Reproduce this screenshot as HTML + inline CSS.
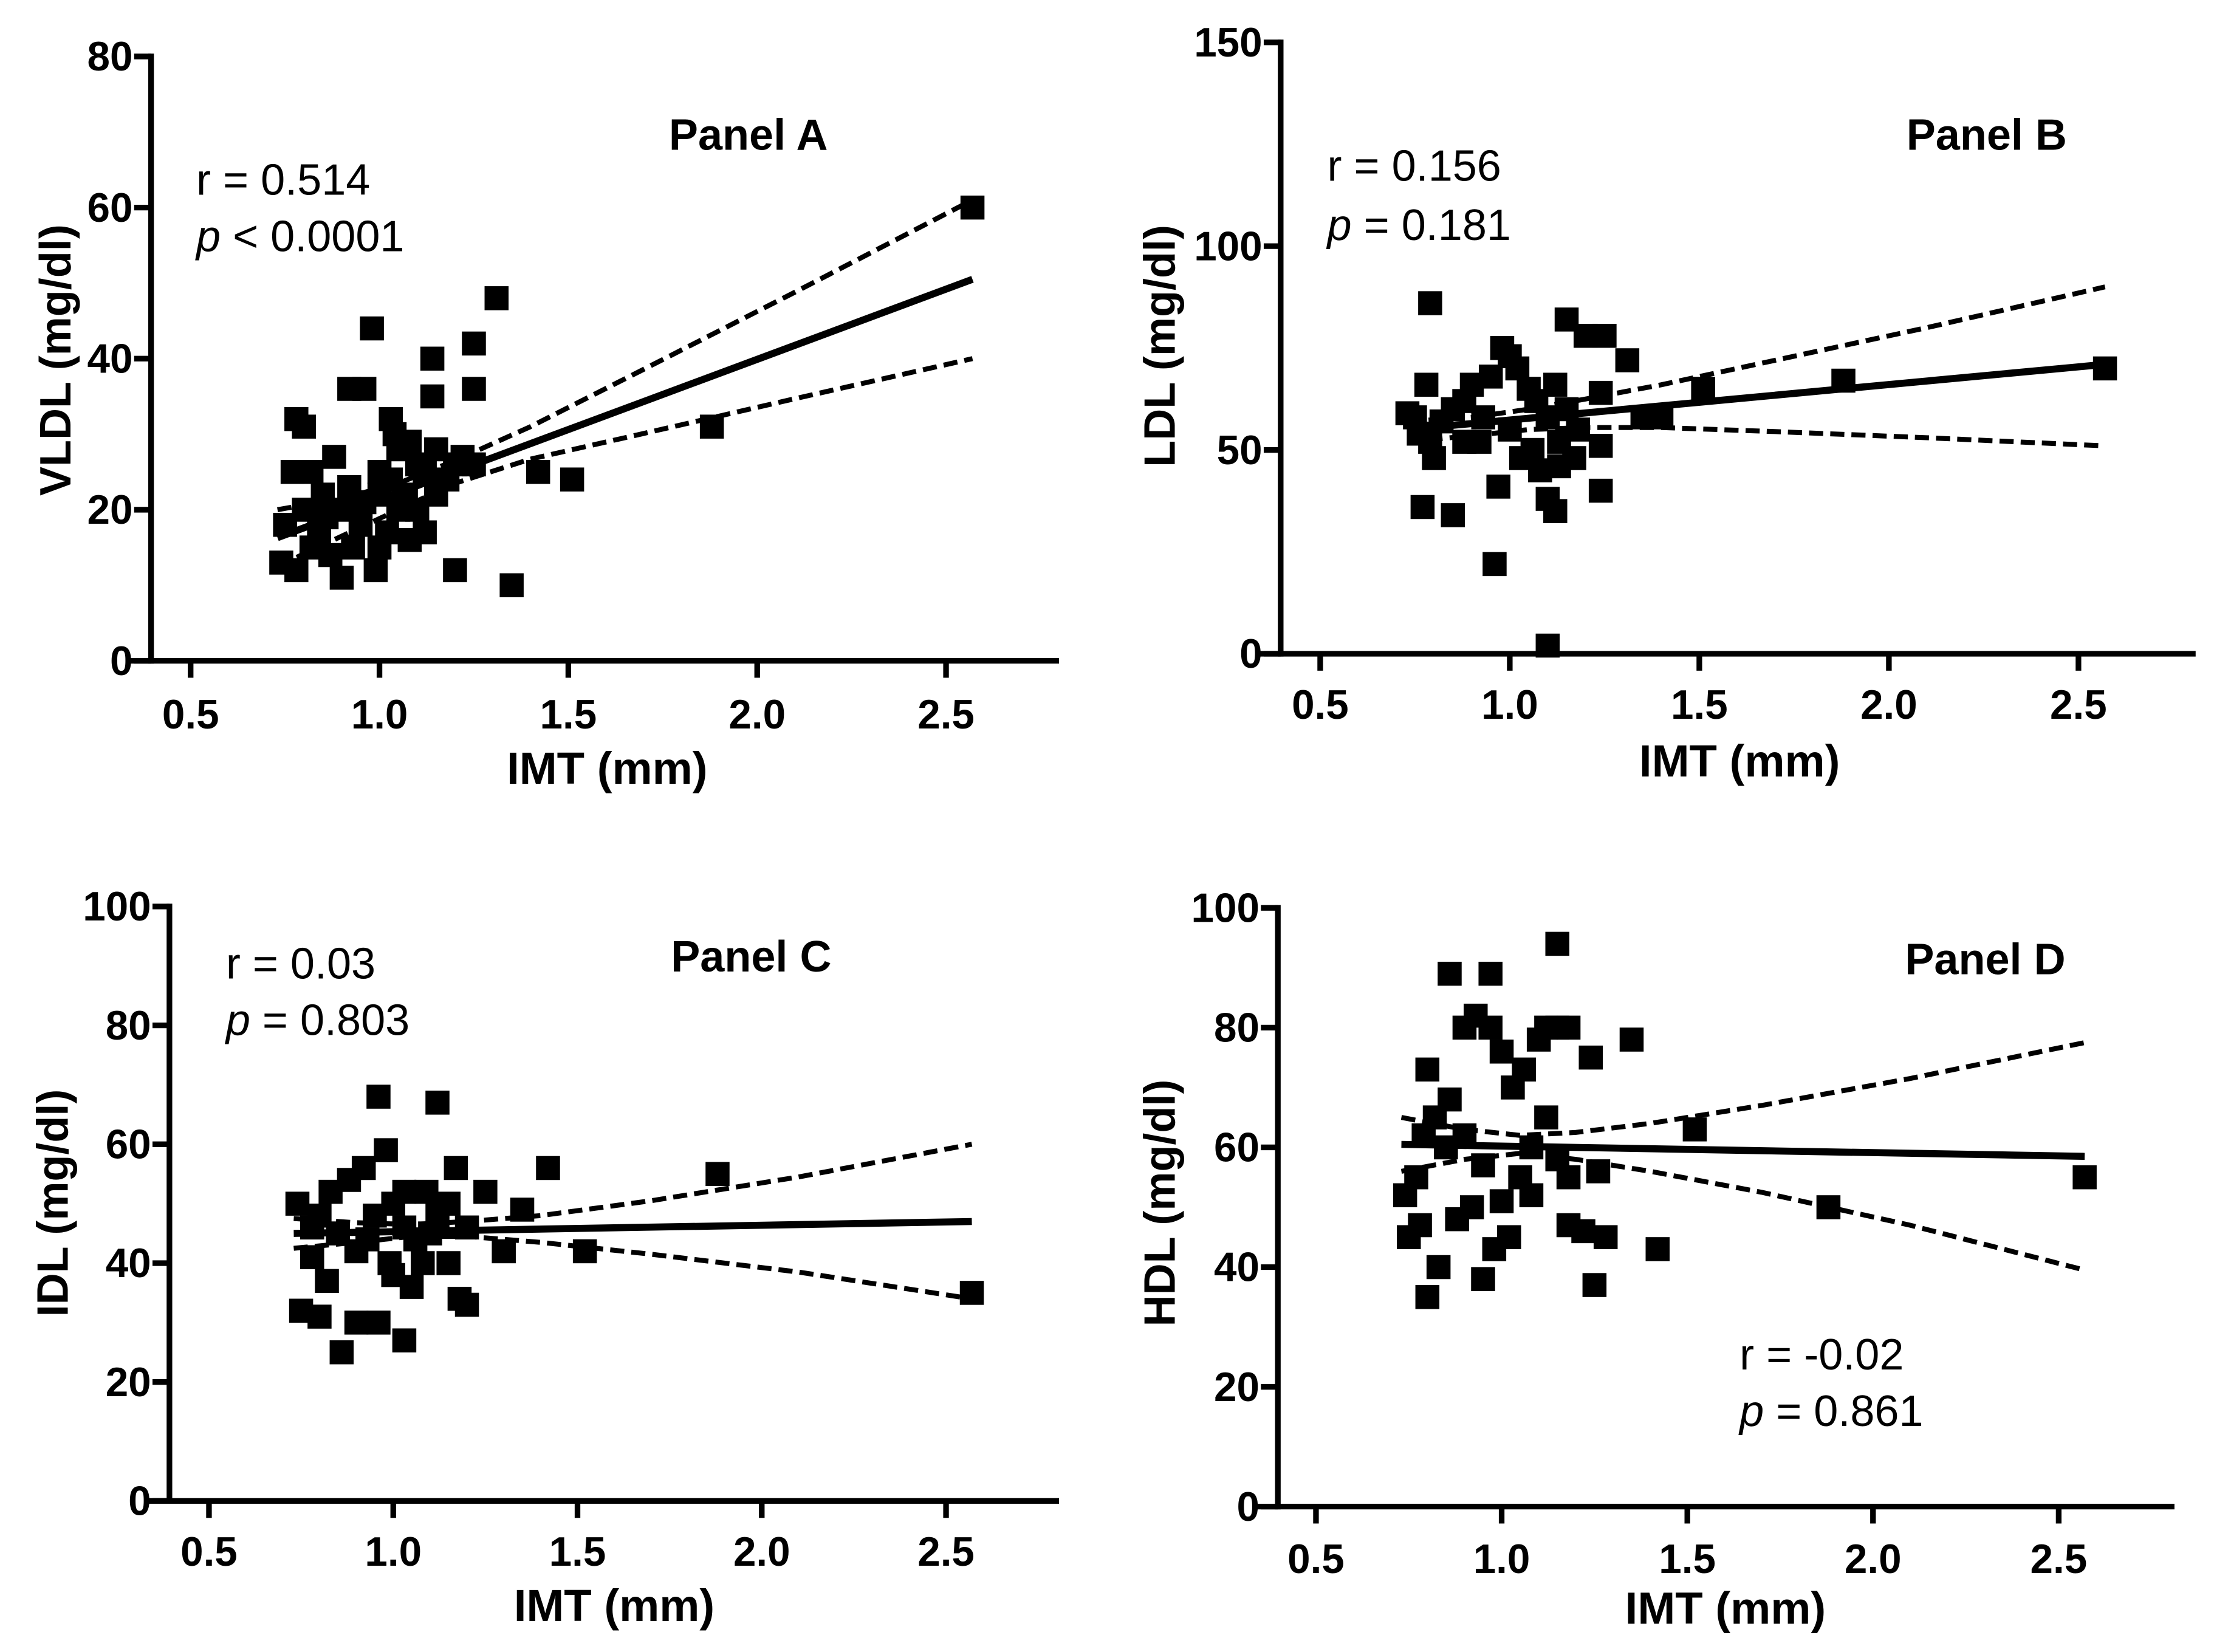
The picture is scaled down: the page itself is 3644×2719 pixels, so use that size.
<!DOCTYPE html>
<html><head><meta charset="utf-8"><style>
html,body{margin:0;padding:0;background:#fff}
svg{display:block}
text{font-family:"Liberation Sans",sans-serif;fill:#000}
</style></head><body>
<svg id="fig" width="3644" height="2719" viewBox="0 0 1568 1170" preserveAspectRatio="none"></svg>
<script>
// Panel A data (VLDL)
const aX=[2.57,1.88,1.51,1.42,1.35,1.31,1.25,1.25,1.14,1.14,1.20,0.98,0.92,0.96,0.78,0.80,0.75,0.74,0.78,0.90,0.99,1.03,1.05,1.10,1.15,1.20,1.25,0.82,0.85,0.88,0.90,0.95,1.00,1.05,1.08,1.12,1.15,0.80,0.84,0.87,0.93,1.00,1.03,1.07,0.77,0.82,0.92,1.12,1.18,1.22,1.00,0.86,1.10,1.02,0.96,1.08,1.04];
const aY=[60,31,24,25,10,48,42,36,40,35,12,44,36,36,32,31,18,13,12,11,12,32,28,26,28,26,26,25,22,27,20,18,22,20,16,17,22,20,17,14,15,15,24,22,25,15,23,25,24,27,25,19,20,17,21,29,30];
const aFitX=[0.73,2.57];
const aFitY=[16.3,50.5];
const aBandX=[0.73,0.9,1.05,1.2,1.4,1.7,2.1,2.57];
const aUpper=[20,21.5,23.5,26.5,31,38.6,48.8,61];
const aLower=[12.5,16.5,20,23.5,26.7,30.1,34.7,40];
// Panel B data (LDL)
const bX=[0.79,2.57,1.88,1.51,1.40,1.35,1.31,1.25,1.20,1.15,1.24,1.24,1.24,1.13,1.10,1.12,0.96,1.10,0.85,0.77,0.80,0.78,0.75,0.76,0.82,0.85,0.88,0.90,0.92,0.95,0.98,1.00,1.02,1.05,1.07,1.10,1.12,1.15,1.18,0.97,1.03,0.93,0.88,1.00,1.06,1.08,1.13,0.79,0.73,1.17];
const bY=[86,70,67,65,58,58,72,78,78,82,64,51,40,46,38,35,22,2,34,36,48,66,58,54,57,60,62,66,52,68,75,73,70,65,62,58,66,60,55,41,48,58,52,55,50,45,52,52,59,48];
const bFitX=[0.73,2.57];
const bFitY=[55,71];
const bBandX=[0.73,0.9,1.05,1.2,1.4,1.7,2.1,2.57];
const bUpper=[57,58,60,62.5,66,72,80,90];
const bLower=[52,53.5,55,55.5,55.5,54.5,53,51];
// Panel C data (IDL)
const cX=[2.57,1.88,1.52,1.42,1.35,1.30,1.25,1.20,1.17,1.12,0.96,1.03,0.96,0.90,0.86,0.75,0.80,0.82,0.78,0.74,0.80,0.83,0.88,0.92,0.98,0.85,0.90,0.95,1.00,1.03,1.06,1.09,1.12,1.15,1.18,1.00,1.05,1.08,0.93,0.78,1.10,1.20,1.15,0.99,1.03];
const cY=[35,55,42,56,49,42,52,33,56,67,68,27,30,30,25,32,31,37,41,50,48,52,54,56,59,45,42,48,50,46,44,52,48,40,34,38,36,40,44,46,45,46,50,40,52];
const cFitX=[0.73,2.57];
const cFitY=[45,47];
const cBandX=[0.73,0.9,1.05,1.2,1.4,1.7,2.1,2.57];
const cUpper=[47.5,46.8,46.5,47,48,50.5,54.5,60];
const cLower=[42.5,43.5,44.5,44.5,43.5,41.5,38.5,34];
// Panel D data (HDL)
const dX=[2.57,1.88,1.52,1.42,1.35,1.28,1.25,1.26,1.24,1.15,0.86,0.97,0.80,0.83,0.95,0.98,0.75,0.78,0.80,0.74,0.77,0.79,0.82,0.86,0.90,0.93,0.97,1.00,1.03,1.06,1.10,1.12,1.15,1.18,0.88,0.92,1.00,1.05,1.08,1.12,1.15,1.18,1.22,1.02,0.95,0.85,1.08,0.90,1.18];
const dY=[55,50,63,43,78,45,37,56,75,94,89,89,35,40,38,43,45,47,73,52,55,62,65,68,80,82,80,76,70,73,78,80,80,80,48,50,51,55,60,65,58,47,46,45,57,60,52,62,55];
const dFitX=[0.73,2.57];
const dFitY=[60.5,58.5];
const dBandX=[0.73,0.9,1.05,1.2,1.4,1.7,2.1,2.57];
const dUpper=[65,63,62,62.5,64,67,71.5,77.5];
const dLower=[56,58,59,58,56,52.5,47,39.5];

const xTicks=[0.5,1.0,1.5,2.0,2.5];
const xTickLabels=["0.5","1.0","1.5","2.0","2.5"];
const aYTicks=[0,20,40,60,80];
const bYTicks=[0,50,100,150];
const cYTicks=[0,20,40,60,80,100];
const dYTicks=[0,20,40,60,80,100];

const NS="http://www.w3.org/2000/svg";
const svg=document.getElementById('fig');
function mk(tag,attrs,parent){const e=document.createElementNS(NS,tag);for(const k in attrs)e.setAttribute(k,attrs[k]);(parent||svg).appendChild(e);return e;}

const panels=[
 {id:'a',X:aX,Y:aY,fx:aFitX,fy:aFitY,bx:aBandX,bu:aUpper,bl:aLower,yt:aYTicks,ymax:80,
  ax:107,y0:468,y1:40,xp0:135,xp1:670,xEnd:750,xStart:90,title:'Panel A',tx:530,ty:106,
  rx:139,ry:138,py:178,r:'r = 0.514',p:' < 0.0001',ylab:'VLDL (mg/dl)',ylx:40,yly:255,xlx:430,xly:555,tkY:515},
 {id:'b',X:bX,Y:bY,fx:bFitX,fy:bFitY,bx:bBandX,bu:bUpper,bl:bLower,yt:bYTicks,ymax:150,
  ax:907,y0:463,y1:30,xp0:935,xp1:1472,xEnd:1555,xStart:890,title:'Panel B',tx:1407,ty:106,
  rx:940,ry:128,py:170,r:'r = 0.156',p:' = 0.181',ylab:'LDL (mg/dl)',ylx:822,yly:245,xlx:1232,xly:550,tkY:508},
 {id:'c',X:cX,Y:cY,fx:cFitX,fy:cFitY,bx:cBandX,bu:cUpper,bl:cLower,yt:cYTicks,ymax:100,
  ax:120,y0:1063,y1:642,xp0:148,xp1:670,xEnd:750,xStart:103,title:'Panel C',tx:532,ty:688,
  rx:160,ry:693,py:733,r:'r = 0.03',p:' = 0.803',ylab:'IDL (mg/dl)',ylx:38,yly:852,xlx:435,xly:1148,tkY:1108},
 {id:'d',X:dX,Y:dY,fx:dFitX,fy:dFitY,bx:dBandX,bu:dUpper,bl:dLower,yt:dYTicks,ymax:100,
  ax:905,y0:1067,y1:643,xp0:932,xp1:1458,xEnd:1540,xStart:888,title:'Panel D',tx:1406,ty:690,
  rx:1232,ry:970,py:1010,r:'r = -0.02',p:' = 0.861',ylab:'HDL (mg/dl)',ylx:822,yly:852,xlx:1222,xly:1150,tkY:1113}
];

panels.forEach(P=>{
 const g=mk('g',{});
 
 
 const sx=v=>P.xp0+(v-0.5)*(P.xp1-P.xp0)/2;
 const sy=v=>P.y0-v*(P.y0-P.y1)/P.ymax;
 const ya=mk('line',{x1:P.ax,y1:P.y1-2,x2:P.ax,y2:P.y0+2,stroke:'#000','stroke-width':4},g);
 
 
 const xa=mk('line',{x1:P.xStart,y1:P.y0,x2:P.xEnd,y2:P.y0,stroke:'#000','stroke-width':4},g);
 
 
 P.yt.forEach(t=>{
  mk('line',{x1:P.ax-12,y1:sy(t),x2:P.ax,y2:sy(t),stroke:'#000','stroke-width':4},g);
  const tl=mk('text',{x:P.ax-13,y:sy(t)+10,'text-anchor':'end','font-size':29,'font-weight':'bold'},g);
  tl.textContent=t;
  
  
 });
 xTicks.forEach((t,i)=>{
  mk('line',{x1:sx(t),y1:P.y0,x2:sx(t),y2:P.y0+12,stroke:'#000','stroke-width':4},g);
  const tl=mk('text',{x:sx(t),y:P.tkY+1,'text-anchor':'middle','font-size':29,'font-weight':'bold'},g);
  tl.textContent=xTickLabels[i];
  
  
 });
 [P.bu,P.bl].forEach((arr,k)=>{
  const pts=P.bx.map((x,i)=>sx(x)+','+sy(arr[i])).join(' ');
  const pl=mk('polyline',{points:pts,fill:'none',stroke:'#000','stroke-width':3.5,'stroke-dasharray':'10,5'},g);
  
  
 });
 const fl=mk('line',{x1:sx(P.fx[0]),y1:sy(P.fy[0]),x2:sx(P.fx[1]),y2:sy(P.fy[1]),stroke:'#000','stroke-width':5},g);
 
 
 P.X.forEach((x,i)=>{
  const r=mk('rect',{x:sx(x)-8.5,y:sy(P.Y[i])-8.5,width:17,height:17,fill:'#000'},g);
  
  
 });
 const ti=mk('text',{x:P.tx,y:P.ty,'text-anchor':'middle','font-size':31,'font-weight':'bold'},g);
 ti.textContent=P.title;
 
 
 const rt=mk('text',{x:P.rx,y:P.ry,'font-size':31},g);
 rt.textContent=P.r;
 
 
 const pt=mk('text',{x:P.rx,y:P.py,'font-size':31},g);
 const it=mk('tspan',{'font-style':'italic'},pt);it.textContent='p';
 const rest=mk('tspan',{},pt);rest.textContent=P.p;
 
 
 const yl=mk('text',{x:P.ylx,y:P.yly,'text-anchor':'middle','font-size':31,'font-weight':'bold','transform':'rotate(-90 '+P.ylx+' '+P.yly+')','dy':'10'},g);
 yl.textContent=P.ylab;
 
 
 const xl=mk('text',{x:P.xlx,y:P.xly,'text-anchor':'middle','font-size':32,'font-weight':'bold'},g);
 xl.textContent='IMT (mm)';
 
 
});
</script>
</body></html>
